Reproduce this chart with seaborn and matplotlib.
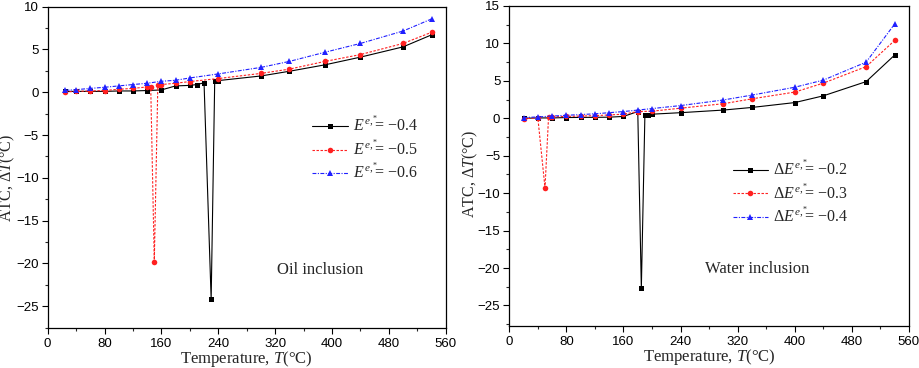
import numpy as np
import pandas as pd
import matplotlib
matplotlib.use("Agg")
import matplotlib.pyplot as plt
import seaborn as sns
from matplotlib.ticker import MultipleLocator, AutoMinorLocator

# ---------------- data ----------------
oil_T_a = [25, 40, 60, 80, 100, 120, 140, 160, 180, 200, 210, 220, 230, 235, 240, 300, 340, 390, 440, 500, 540]
oil_y_a = [0.1, 0.1, 0.1, 0.1, 0.15, 0.15, 0.2, 0.27, 0.74, 0.8, 0.9, 1.1, -24.2, 1.28, 1.36, 1.9, 2.45, 3.2, 4.1, 5.3, 6.7]
oil_T_b = [25, 40, 60, 80, 100, 120, 140, 145, 150, 155, 160, 180, 200, 240, 300, 340, 390, 440, 500, 540]
oil_y_b = [0.04, 0.1, 0.15, 0.2, 0.35, 0.45, 0.62, 0.65, -19.8, 0.86, 0.9, 1.05, 1.25, 1.6, 2.2, 2.7, 3.6, 4.4, 5.7, 7.0]
oil_T_c = [25, 40, 60, 80, 100, 120, 140, 160, 180, 200, 240, 300, 340, 390, 440, 500, 540]
oil_y_c = [0.23, 0.3, 0.45, 0.58, 0.74, 0.9, 1.05, 1.28, 1.4, 1.67, 2.14, 2.9, 3.6, 4.67, 5.7, 7.15, 8.56]

wat_T_a = [20, 40, 60, 80, 100, 120, 140, 160, 180, 185, 190, 195, 200, 240, 300, 340, 400, 440, 500, 540]
wat_y_a = [0.0, 0.05, 0.05, 0.1, 0.12, 0.13, 0.15, 0.25, 0.9, -22.7, 0.5, 0.5, 0.55, 0.75, 1.1, 1.45, 2.1, 3.0, 4.9, 8.45]
wat_T_b = [20, 40, 50, 55, 60, 80, 100, 120, 140, 160, 180, 200, 240, 300, 340, 400, 440, 500, 540]
wat_y_b = [-0.05, 0.05, -9.3, 0.2, 0.2, 0.25, 0.3, 0.35, 0.45, 0.55, 0.9, 0.95, 1.35, 1.95, 2.6, 3.5, 4.7, 6.9, 10.4]
wat_T_c = [20, 40, 60, 80, 100, 120, 140, 160, 180, 200, 240, 300, 340, 400, 440, 500, 540]
wat_y_c = [0.1, 0.18, 0.3, 0.4, 0.5, 0.6, 0.75, 0.9, 1.1, 1.3, 1.7, 2.45, 3.1, 4.15, 5.1, 7.5, 12.6]

oil_labels = [r"$E^{e,\!^{*}}\!$= −0.4", r"$E^{e,\!^{*}}\!$= −0.5", r"$E^{e,\!^{*}}\!$= −0.6"]
wat_labels = [r"Δ$E^{e,\!^{*}}\!$= −0.2", r"Δ$E^{e,\!^{*}}\!$= −0.3", r"Δ$E^{e,\!^{*}}\!$= −0.4"]
x_ticks = [0, 80, 160, 240, 320, 400, 480, 560]

# ---------------- style ----------------
sns.set_theme(style="white")
plt.rcParams["font.family"] = ["Liberation Sans", "DejaVu Sans"]
plt.rcParams["mathtext.fontset"] = "custom"
plt.rcParams["mathtext.rm"] = "Liberation Serif"
plt.rcParams["mathtext.it"] = "Liberation Serif:italic"
plt.rcParams["mathtext.bf"] = "Liberation Serif:bold"

serif = ["Liberation Serif", "DejaVu Serif"]
styles = [
    dict(color="black", linestyle="-", marker="s", lw=0.8, ms=3.6),
    dict(color="#ff2020", linestyle=(0, (2.2, 1.4)), marker="o", lw=0.8, ms=4.0),
    dict(color="#2020ff", linestyle=(0, (3.5, 1.3, 1, 1.3)), marker="^", lw=0.8, ms=4.4),
]

fig = plt.figure(figsize=(9.2, 3.68), dpi=100)
axL = fig.add_axes([0.0518, 0.1095, 0.4327, 0.8725])
axR = fig.add_axes([0.5536, 0.115, 0.4344, 0.8687])


def draw(ax, Ts, Ys, labels, ylim, ymajor, note, note_xy, leg_anchor, ylab_xy):
    for T, Y, lab, st in zip(Ts, Ys, labels, styles):
        df = pd.DataFrame({"T": T, "y": Y})
        sns.lineplot(data=df, x="T", y="y", ax=ax, color=st["color"],
                     linestyle=st["linestyle"], linewidth=st["lw"],
                     marker=st["marker"], markersize=st["ms"],
                     markeredgewidth=0, label=lab, sort=False,
                     estimator=None)
    ax.set_xlim(0, 560)
    ax.set_ylim(*ylim)
    ax.set_xticks(x_ticks)
    ax.xaxis.set_minor_locator(AutoMinorLocator(2))
    ax.yaxis.set_major_locator(MultipleLocator(ymajor))
    ax.yaxis.set_minor_locator(AutoMinorLocator(2))
    ax.tick_params(axis="both", which="major", direction="out", length=4.5,
                   width=0.8, labelsize=9.5, colors="black",
                   bottom=True, left=True, top=False, right=False)
    ax.tick_params(axis="x", which="major", pad=3)
    ax.tick_params(axis="y", which="major", pad=2)
    ax.tick_params(axis="both", which="minor", direction="out", length=2.5,
                   width=0.8, bottom=True, left=True, top=False, right=False)
    for s in ax.spines.values():
        s.set_color("black")
        s.set_linewidth(0.9)
    ax.set_xlabel(r"Temperature, $T$(°C)", family=serif, fontsize=12, labelpad=-1)
    ax.set_ylabel(r"ATC, $ΔT$(°C)", family=serif, fontsize=11.5)
    ax.yaxis.set_label_coords(*ylab_xy)
    ax.text(note_xy[0], note_xy[1], note, family=serif, fontsize=12,
            ha="left", va="center")
    ax.legend(loc="upper left", bbox_to_anchor=leg_anchor, frameon=False,
              prop={"family": serif, "size": 11.5}, handlelength=2.2,
              handletextpad=0.35, labelspacing=0.2, borderaxespad=0)
    ax.grid(False)


draw(axL, [oil_T_a, oil_T_b, oil_T_c], [oil_y_a, oil_y_b, oil_y_c], oil_labels,
     (-27.5, 10), 5, "Oil inclusion", (322, -20.8), (0.649, 0.68), (-0.076, 0.466))
draw(axR, [wat_T_a, wat_T_b, wat_T_c], [wat_y_a, wat_y_b, wat_y_c], wat_labels,
     (-27.7, 15), 5, "Water inclusion", (274, -20.1), (0.5425, 0.54), (-0.074, 0.474))

fig.savefig("out.png", dpi=100)
